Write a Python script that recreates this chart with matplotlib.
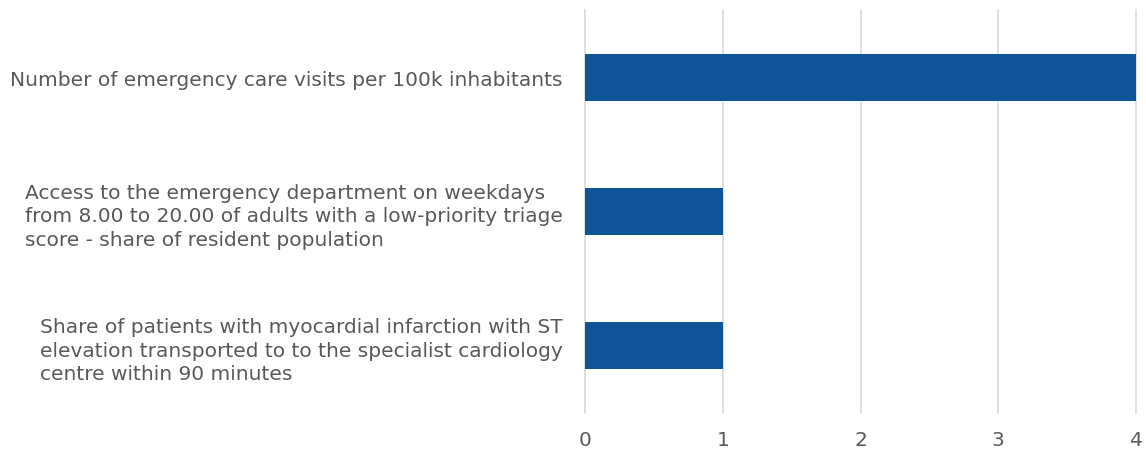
import matplotlib
matplotlib.use('Agg')
import matplotlib.pyplot as plt

categories = [
    'Number of emergency care visits per 100k inhabitants',
    'Access to the emergency department on weekdays\n'
    'from 8.00 to 20.00 of adults with a low-priority triage\n'
    'score - share of resident population',
    'Share of patients with myocardial infarction with ST\n'
    'elevation transported to to the specialist cardiology\n'
    'centre within 90 minutes',
]
values = [4, 1, 1]
x_ticks = [0, 1, 2, 3, 4]

plt.rcParams['font.family'] = ['DejaVu Sans']

TEXT = '#595959'
BAR = '#0F5496'
GRID = '#D9D9D9'

fig = plt.figure(figsize=(11.46, 4.52), dpi=100)
ax = fig.add_axes([0.5105, 0.0841, 0.4808, 0.8916])

pos = list(range(len(categories)))
ax.barh(pos, values, height=0.35, color=BAR, zorder=3)
ax.set_ylim(len(categories) - 0.5, -0.5)
ax.set_xlim(0, 4)
ax.set_xticks(x_ticks)
ax.set_xticklabels([str(t) for t in x_ticks])
ax.set_yticks(pos)
ax.set_yticklabels(categories, multialignment='left', linespacing=1.3)

# vertical gridlines, not clipped so the edge ones show fully
for t in x_ticks:
    ax.axvline(t, color=GRID, linewidth=1.2, zorder=1, clip_on=False)

for s in ax.spines.values():
    s.set_visible(False)
ax.tick_params(axis='both', length=0, colors=TEXT, labelsize=14.5)
ax.tick_params(axis='x', pad=12)
ax.tick_params(axis='y', pad=16)

fig.savefig('out.png', dpi=100)
